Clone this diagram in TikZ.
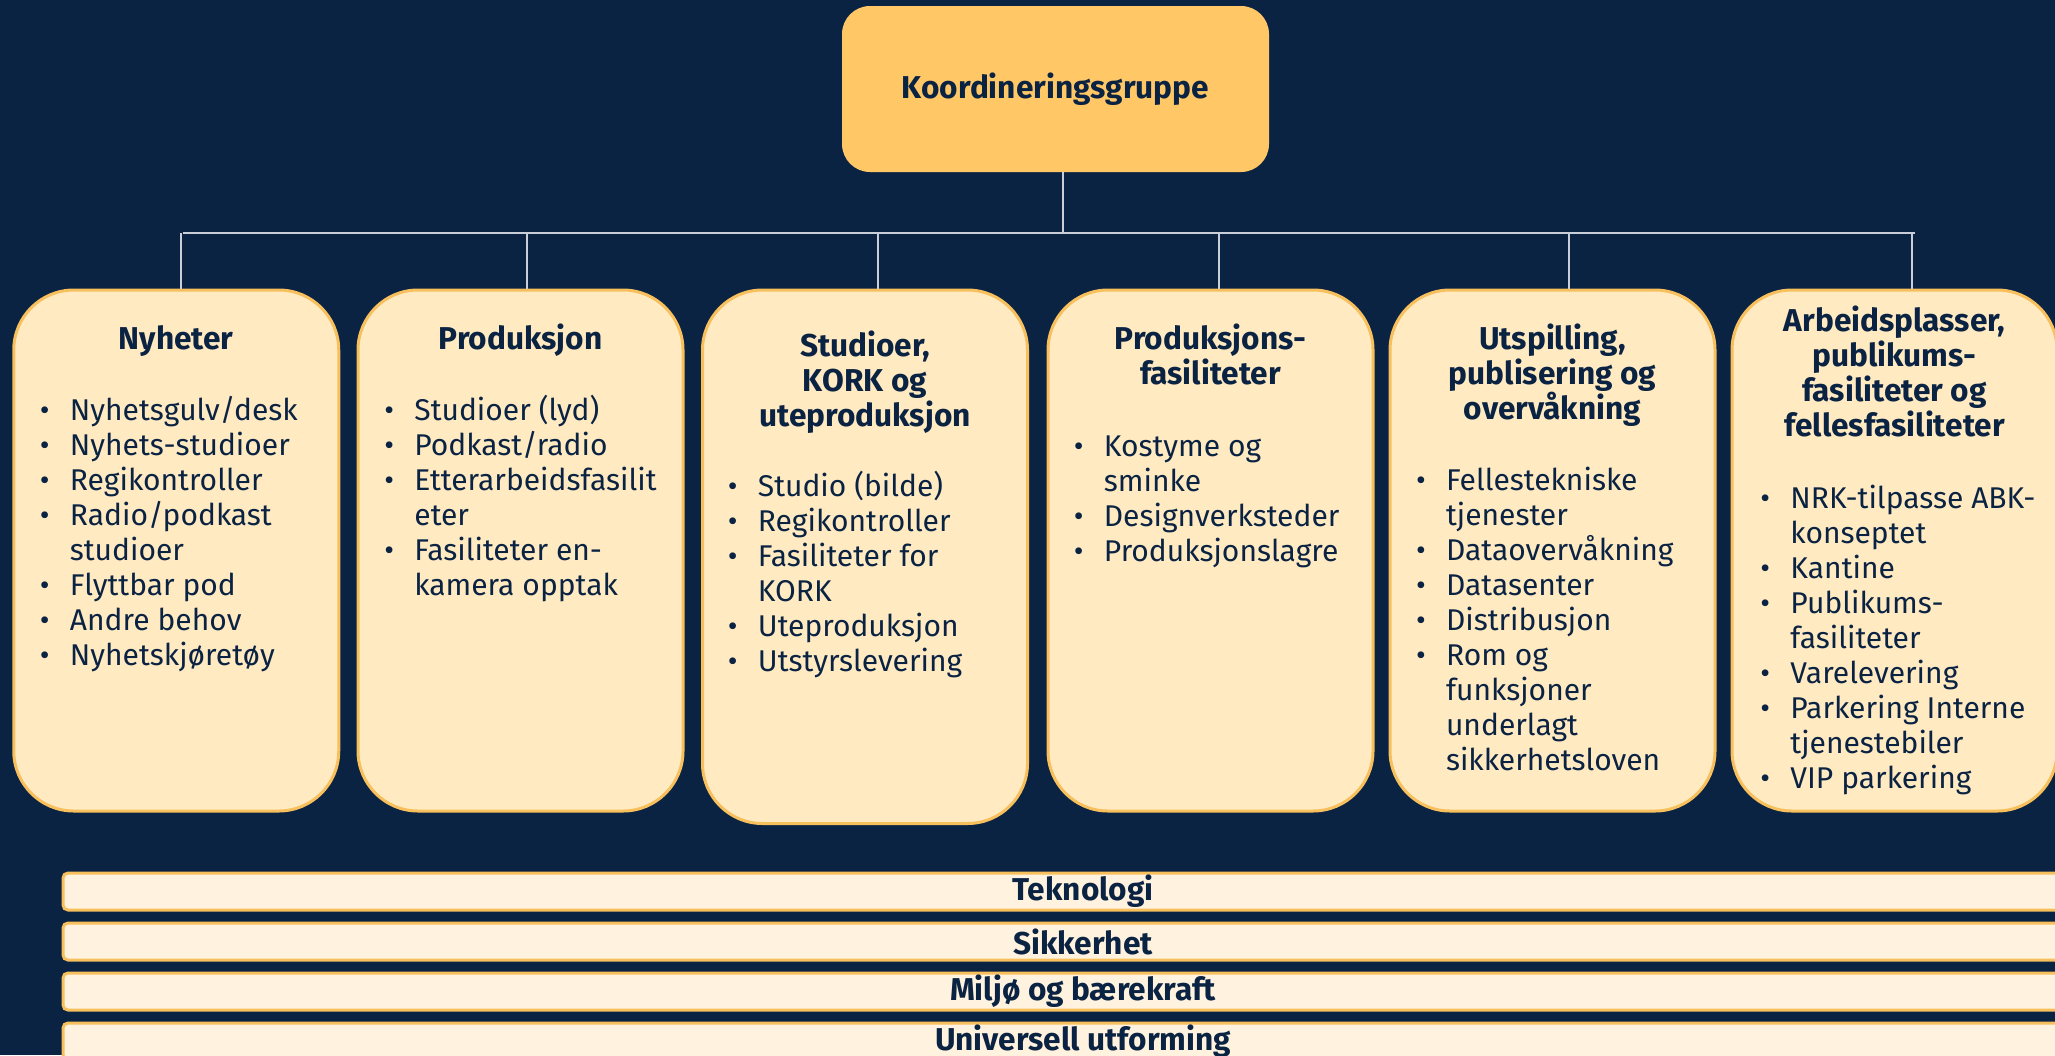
\documentclass[tikz,border=0pt]{standalone}
\usepackage{fontspec}
\setmainfont{Fira Sans}
\definecolor{bg}{HTML}{0B2343}
\definecolor{navy}{HTML}{0B2343}
\definecolor{topc}{HTML}{FFC766}
\definecolor{boxc}{HTML}{FFEAC2}
\definecolor{bord}{HTML}{F8C05C}
\definecolor{barc}{HTML}{FFF3DF}
\definecolor{linec}{HTML}{C9CED8}
\newcommand{\fs}{\rule{0pt}{13pt}}
\newcommand{\bi}{\makebox[15pt][l]{\textbullet}}
\newcommand{\ct}{\hspace*{15pt}}
\begin{document}
\begin{tikzpicture}[x=0.5pt,y=-0.5pt,
  topbox/.style={fill=topc, rounded corners=14pt, minimum width=213.5pt, minimum height=83pt, inner sep=0pt,
    font=\bfseries\fontsize{15.8}{17.5}\selectfont, text=navy},
  cat/.style={draw=bord, line width=1.5pt, fill=boxc, rounded corners=30pt, minimum width=162.5pt, inner sep=0pt},
  bar/.style={draw=bord, line width=1.5pt, fill=barc, rounded corners=2.5pt, minimum width=1020pt, minimum height=18.5pt,
    inner sep=0pt, font=\bfseries\fontsize{15.8}{17.5}\selectfont, text=navy},
  ttl/.style={anchor=north, align=center, inner sep=0pt, font=\bfseries\fontsize{15.8}{17.5}\selectfont, text=navy},
  lst/.style={anchor=north west, align=left, inner sep=0pt, font=\fontsize{15}{17.5}\selectfont, text=navy},
  conn/.style={draw=linec, line width=0.75pt},
  bus/.style={draw=linec, line width=1pt}]
\fill[bg] (0,0) rectangle (2055,1055);
\useasboundingbox (0,0) rectangle (2055,1055);

% top box
\node[topbox] (top) at (1055.5,89) {Koordineringsgruppe};

% category boxes
\node[cat, minimum height=260.5pt] (b1) at (176.25,550.5) {};
\node[cat, minimum height=260.5pt] (b2) at (520.5,550.5) {};
\node[cat, minimum height=266.75pt] (b3) at (865,556.75) {};
\node[cat, minimum height=260.5pt] (b4) at (1210.5,550.5) {};
\node[cat, minimum height=260.5pt] (b5) at (1552.5,550.5) {};
\node[cat, minimum height=260.5pt] (b6) at (1894.5,550.5) {};

% connectors
\coordinate (busL) at (183,233);
\coordinate (busR) at (1915,233);
\draw[bus] (busL) -- (busR);
\draw[conn] ([xshift=3.75pt]top.south) -- ([xshift=3.75pt]top.south |- busL);
\coordinate (d1) at (181,233);
\coordinate (d2) at (527,233);
\coordinate (d3) at (878,233);
\coordinate (d4) at (1219,233);
\coordinate (d5) at (1569,233);
\coordinate (d6) at (1912,233);
\draw[conn] (d1) -- (d1 |- b1.north);
\draw[conn] (d2) -- (d2 |- b2.north);
\draw[conn] (d3) -- (d3 |- b3.north);
\draw[conn] (d4) -- (d4 |- b4.north);
\draw[conn] (d5) -- (d5 |- b5.north);
\draw[conn] (d6) -- (d6 |- b6.north);

% titles
\node[ttl] (t1) at (176.25,323) {\fs Nyheter};
\node[ttl] (t2) at (520.5,323) {\fs Produksjon};
\node[ttl] (t3) at (865,330.4) {\fs Studioer,\\KORK og\\uteproduksjon};
\node[ttl] (t4) at (1210.5,323) {\fs Produksjons-\\fasiliteter};
\node[ttl] (t5) at (1552.5,323) {\fs Utspilling,\\publisering og\\overvåkning};
\node[ttl] (t6) at (1894.5,305.4) {\fs Arbeidsplasser,\\publikums-\\fasiliteter og\\fellesfasiliteter};

% lists
\node[lst] (l1) at (39.5,394.4) {\fs\bi Nyhetsgulv/desk\\\bi Nyhets-studioer\\\bi Regikontroller\\\bi Radio/podkast\\\ct studioer\\\bi Flyttbar pod\\\bi Andre behov\\\bi Nyhetskjøretøy};
\node[lst] (l2) at (384,394.4) {\fs\bi Studioer (lyd)\\\bi Podkast/radio\\\bi Etterarbeidsfasilit\\\ct eter\\\bi Fasiliteter en-\\\ct kamera opptak};
\node[lst] (l3) at (727.5,470.4) {\fs\bi Studio (bilde)\\\bi Regikontroller\\\bi Fasiliteter for\\\ct KORK\\\bi Uteproduksjon\\\bi Utstyrslevering};
\node[lst] (l4) at (1073.5,430) {\fs\bi Kostyme og\\\ct sminke\\\bi Designverksteder\\\bi Produksjonslagre};
\node[lst] (l5) at (1415.6,464.4) {\fs\bi Fellestekniske\\\ct tjenester\\\bi Dataovervåkning\\\bi Datasenter\\\bi Distribusjon\\\bi Rom og\\\ct funksjoner\\\ct underlagt\\\ct sikkerhetsloven};
\node[lst] (l6) at (1760,482.4) {\fs\bi NRK-tilpasse ABK-\\\ct konseptet\\\bi Kantine\\\bi Publikums-\\\ct fasiliteter\\\bi Varelevering\\\bi Parkering Interne\\\ct tjenestebiler\\\bi VIP parkering};

% bars
\node[bar] (r1) at (1083,891.5) {Teknologi};
\node[bar] (r2) at (1083,941.5) {Sikkerhet};
\node[bar] (r3) at (1083,991.5) {Miljø og bærekraft};
\node[bar] (r4) at (1083,1041.5) {Universell utforming};
\end{tikzpicture}
\end{document}
